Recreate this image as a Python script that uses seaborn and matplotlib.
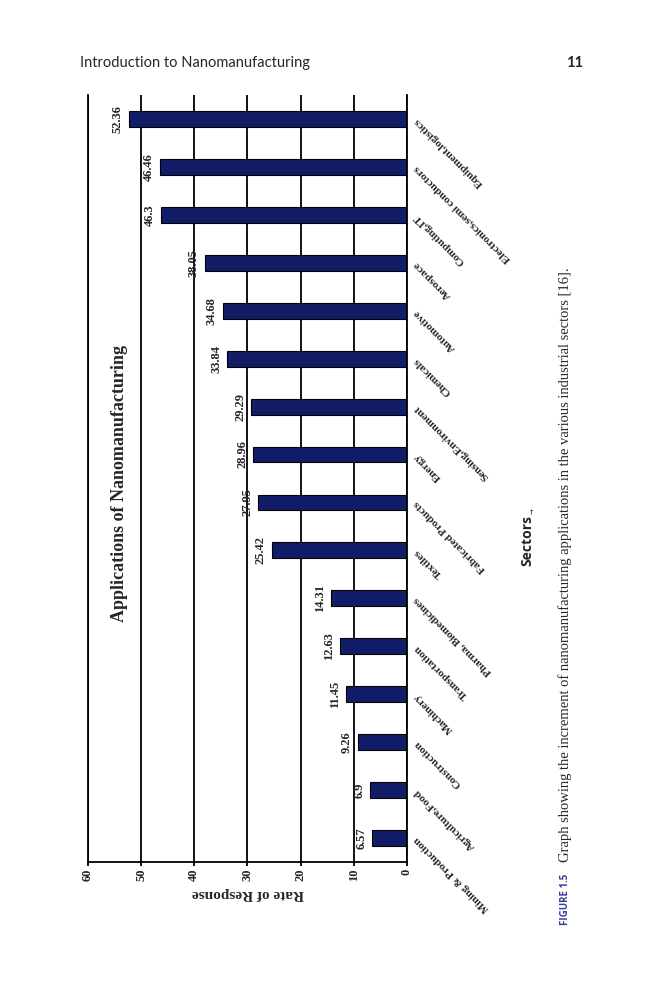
import matplotlib
matplotlib.use('Agg')
import matplotlib.pyplot as plt
import seaborn as sns

# Datos del grafico (orden original, de izquierda a derecha)
sectors = ['Mining & Production', 'Agriculture,Food', 'Construction', 'Machinery',
           'Transportation', 'Pharma, Biomedicines', 'Textiles', 'Fabricated Products',
           'Energy', 'Sensing,Environment', 'Chemicals', 'Automotive', 'Aerospace',
           'Computing,IT', 'Electronics,semi conductors', 'Equipment,logistics']
rates = [6.57, 6.9, 9.26, 11.45, 12.63, 14.31, 25.42, 27.95, 28.96, 29.29,
         33.84, 34.68, 38.05, 46.3, 46.46, 52.36]
rate_ticks = [0, 10, 20, 30, 40, 50, 60]

navy = '#111d66'
serif = 'Liberation Serif'

sns.set_style('white')
fig = plt.figure(figsize=(6.66, 10), dpi=100)
W, H = 666, 1000

# La pagina esta girada: el grafico se dibuja con barras horizontales
ax = fig.add_axes([88 / W, 1 - 862 / H, (407 - 88) / W, (862 - 95) / H])
sns.barplot(x=rates, y=sectors, order=sectors[::-1], orient='h', color=navy,
            saturation=1, width=0.33, edgecolor='black', linewidth=0.8, ax=ax)

ax.set_xlim(60, 0)
ax.set_xticks(rate_ticks)
ax.set_xticklabels([str(t) for t in rate_ticks], rotation=90, fontsize=9,
                   fontweight='bold', family=serif)
ax.xaxis.grid(True, color='black', lw=1.3)
ax.set_axisbelow(True)
ax.tick_params(axis='x', length=3, width=1.3, color='black', pad=2, bottom=True)

for side in ['left', 'right', 'bottom']:
    ax.spines[side].set_color('black')
    ax.spines[side].set_linewidth(1.3)
ax.spines['top'].set_visible(False)

# Etiquetas de sectores a la derecha, giradas
ax.yaxis.tick_right()
ax.tick_params(axis='y', length=0, pad=6)
ax.set_yticks(range(len(sectors)))
ax.set_yticklabels(sectors[::-1], rotation=135, rotation_mode='anchor', ha='right',
                   va='center', fontsize=8, fontweight='bold', family=serif)
ax.set_ylabel('')

ax.set_xlabel('Rate of Response', rotation=180, fontsize=11, fontweight='bold',
              family=serif, labelpad=4)

ax.bar_label(ax.containers[0], fmt='{:g}', padding=3.5, rotation=90, fontsize=9,
             fontweight='bold', family=serif)

# Titulo del grafico
fig.text(120 / W, 1 - 483 / H, 'Applications of Nanomanufacturing', rotation=90,
         ha='center', va='center', fontsize=13, fontweight='bold', family=serif)

fig.text(527 / W, 1 - 540 / H, 'Sectors', rotation=90, ha='center', va='center',
         fontsize=10, fontweight='bold', family='Open Sans')
fig.text(533 / W, 1 - 511 / H, '\u2192', rotation=90, ha='center', va='center',
         fontsize=5, family='DejaVu Sans')

# Cabecera de la pagina
fig.text(80 / W, 1 - 67 / H, 'Introduction to Nanomanufacturing', ha='left',
         va='baseline', fontsize=10.5, family='Lato')
fig.text(583 / W, 1 - 67 / H, '11', ha='right', va='baseline', fontsize=10.5,
         fontweight='bold', family='Lato')

# Pie de figura
fig.text(565 / W, 1 - 925 / H, 'FIGURE 1.5', rotation=90, ha='center', va='bottom',
         fontsize=7, fontweight='bold', color='#3b3b9c', family='Open Sans')
fig.text(565 / W, 1 - 862 / H,
         'Graph showing the increment of nanomanufacturing applications in the '
         'various industrial sectors [16].', rotation=90, ha='center', va='bottom',
         fontsize=10.5, family=serif)

fig.savefig('out.png', dpi=100)
